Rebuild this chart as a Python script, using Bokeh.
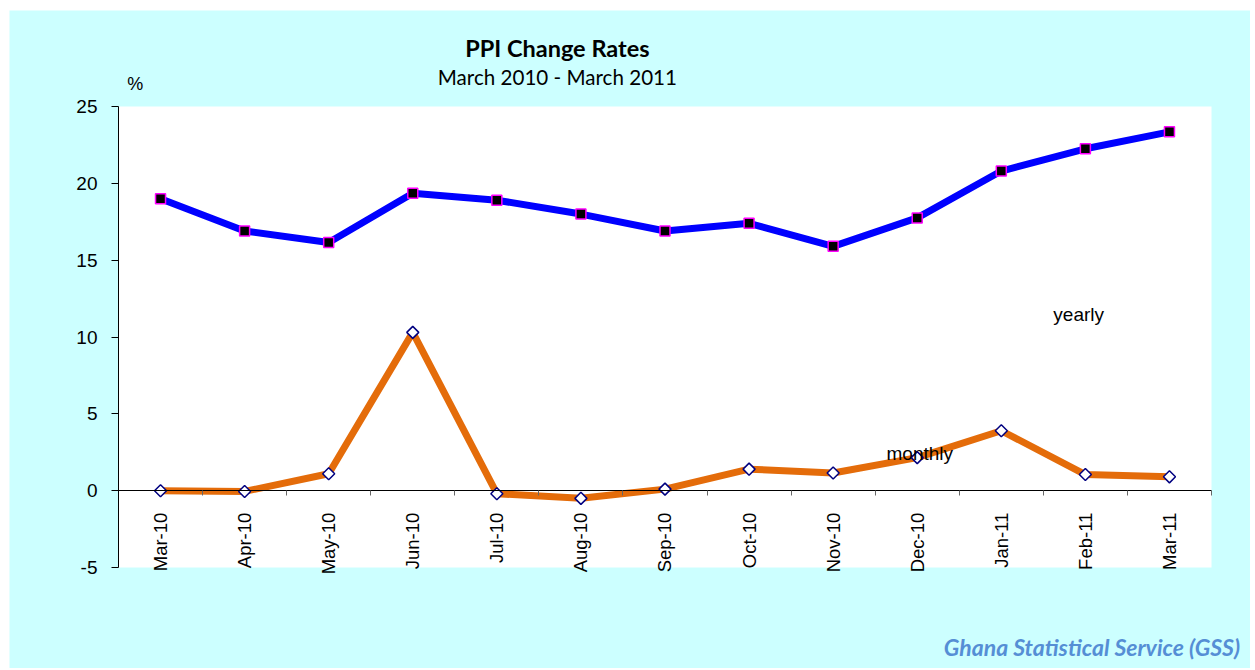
import numpy as np
from bokeh.plotting import figure
from bokeh.models import Range1d, FixedTicker, LinearAxis, Label, BoxAnnotation
from bokeh.embed import file_html
from bokeh.resources import INLINE

months = ["Mar-10", "Apr-10", "May-10", "Jun-10", "Jul-10", "Aug-10", "Sep-10",
          "Oct-10", "Nov-10", "Dec-10", "Jan-11", "Feb-11", "Mar-11"]
yearly = [19.0, 16.9, 16.15, 19.35, 18.9, 18.0, 16.9, 17.4, 15.9, 17.75, 20.8, 22.25, 23.35]
monthly = [0.0, -0.05, 1.1, 10.3, -0.2, -0.5, 0.1, 1.4, 1.15, 2.15, 3.9, 1.05, 0.9]
y_ticks = [-5, 0, 5, 10, 15, 20, 25]
Y_MIN, Y_MAX = -5, 25

x = list(range(len(months)))
AX_FONT = "Liberation Sans"
TITLE_FONT = "Lato"

# layout of the figure (pixels)
W, H = 1241, 658
PAD_L, PAD_R, PAD_T, PAD_B = 109, 39, 96, 101
x_lo, x_hi = -0.5, len(months) - 0.5
px_x = (W - PAD_L - PAD_R) / (x_hi - x_lo)
px_y = (H - PAD_T - PAD_B) / (Y_MAX - Y_MIN)
xr = Range1d(x_lo - PAD_L / px_x, x_hi + PAD_R / px_x)
yr = Range1d(Y_MIN - PAD_B / px_y, Y_MAX + PAD_T / px_y)

p = figure(width=W, height=H, x_range=xr, y_range=yr,
           output_backend="svg", toolbar_location=None,
           x_axis_type=None, y_axis_type=None,
           background_fill_color="#CCFFFF", border_fill_color="#CCFFFF",
           outline_line_color=None,
           min_border_left=0, min_border_right=0, min_border_top=0, min_border_bottom=0)
p.margin = (10, 0, 0, 9)

p.add_layout(BoxAnnotation(left=x_lo, right=x_hi, bottom=Y_MIN, top=Y_MAX,
                           fill_color="white", fill_alpha=1, line_color=None,
                           level="underlay"))

ya = LinearAxis(ticker=FixedTicker(ticks=y_ticks), fixed_location=x_lo,
                bounds=(Y_MIN, Y_MAX), major_tick_in=0, major_tick_out=7,
                major_label_overrides={t: str(t) for t in y_ticks},
                minor_tick_line_color=None, axis_line_color="black",
                major_tick_line_color="black", major_label_standoff=14,
                major_label_text_font=AX_FONT, major_label_text_font_size="19px",
                major_label_text_color="black")
p.add_layout(ya, "left")

# category axis on the zero line: labels at centres, ticks between categories
xl = LinearAxis(ticker=FixedTicker(ticks=x,
                                   minor_ticks=[i - 0.5 for i in range(len(months) + 1)]),
                fixed_location=0, bounds=(x_lo, x_hi),
                major_label_overrides={i: m for i, m in enumerate(months)},
                major_label_orientation=np.pi / 2,
                axis_line_color="black", major_tick_line_color=None,
                major_tick_in=0, major_tick_out=0,
                minor_tick_line_color="#666666", minor_tick_in=0, minor_tick_out=5,
                major_label_standoff=17, major_label_text_font=AX_FONT,
                major_label_text_font_size="18.5px", major_label_text_color="black")
p.add_layout(xl, "below")

p.line(x, yearly, color="#0000FF", line_width=7)
p.scatter(x, yearly, marker="square", size=10, fill_color="black",
          line_color="#FF00FF", line_width=1.5)
p.line(x, monthly, color="#E46C0A", line_width=7)
p.scatter(x, monthly, marker="square", angle=np.pi / 4, size=8.5, fill_color="white",
          line_color="#000080", line_width=1.5)

p.add_layout(Label(x=10.92, y=11.45, text="yearly", text_align="center",
                   text_baseline="middle", text_font=AX_FONT, text_font_size="19px",
                   text_color="black"))
p.add_layout(Label(x=9.03, y=2.43, text="monthly", text_align="center",
                   text_baseline="middle", text_font=AX_FONT, text_font_size="19px",
                   text_color="black"))

# titles and notes
p.add_layout(Label(x=4.72, y=28.83, text="PPI Change Rates", text_align="center",
                   text_baseline="alphabetic", text_font=TITLE_FONT,
                   text_font_style="bold", text_font_size="23.5px", text_color="black"))
p.add_layout(Label(x=4.72, y=26.92, text="March 2010 - March 2011", text_align="center",
                   text_baseline="alphabetic", text_font=TITLE_FONT,
                   text_font_size="20.6px", text_color="black"))
p.add_layout(Label(x=-0.3, y=26.49, text="%", text_align="center",
                   text_baseline="alphabetic", text_font=AX_FONT,
                   text_font_size="18px", text_color="black"))
p.add_layout(Label(x=12.84, y=-10.19, text="Ghana Statistical Service (GSS)",
                   text_align="right", text_baseline="alphabetic", text_font=TITLE_FONT,
                   text_font_style="bold italic", text_font_size="23px",
                   text_color="#558ED5"))

open("out.html", "w").write(file_html(p, INLINE))
